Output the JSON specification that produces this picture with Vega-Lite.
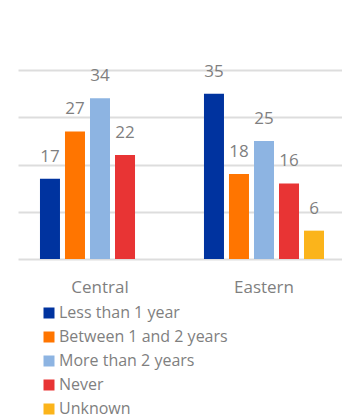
{
  "$schema": "https://vega.github.io/schema/vega-lite/v6.json",
  "autosize": {"type": "none"},
  "width": 324,
  "height": 189,
  "padding": {"left": 18, "top": 70, "right": 0, "bottom": 158},
  "background": "white",
  "config": {
    "view": {"stroke": null},
    "font": "Open Sans"
  },
  "data": {
    "values": [
      {"region": "Central", "duration": "Less than 1 year", "count": 17},
      {"region": "Central", "duration": "Between 1 and 2 years", "count": 27},
      {"region": "Central", "duration": "More than 2 years", "count": 34},
      {"region": "Central", "duration": "Never", "count": 22},
      {"region": "Eastern", "duration": "Less than 1 year", "count": 35},
      {"region": "Eastern", "duration": "Between 1 and 2 years", "count": 18},
      {"region": "Eastern", "duration": "More than 2 years", "count": 25},
      {"region": "Eastern", "duration": "Never", "count": 16},
      {"region": "Eastern", "duration": "Unknown", "count": 6}
    ]
  },
  "encoding": {
    "x": {
      "field": "region",
      "type": "nominal",
      "scale": {"range": [0, 328], "paddingInner": 0.268, "paddingOuter": 0.134},
      "axis": {
        "title": null,
        "labelAngle": 0,
        "ticks": false,
        "domain": false,
        "labelFontSize": 17,
        "labelColor": "#7f7f7f",
        "labelPadding": 20
      }
    },
    "xOffset": {
      "field": "duration",
      "type": "nominal",
      "sort": ["Less than 1 year", "Between 1 and 2 years", "More than 2 years", "Never", "Unknown"],
      "scale": {"paddingInner": 0.2, "paddingOuter": 0}
    },
    "y": {
      "field": "count",
      "type": "quantitative",
      "scale": {"domain": [0, 40], "nice": false},
      "axis": {
        "title": null,
        "labels": false,
        "ticks": false,
        "domain": false,
        "values": [0, 10, 20, 30, 40],
        "gridColor": "#dddddd",
        "gridWidth": 1.8
      }
    }
  },
  "layer": [
    {
      "mark": {"type": "bar"},
      "encoding": {
        "color": {
          "field": "duration",
          "type": "nominal",
          "sort": ["Less than 1 year", "Between 1 and 2 years", "More than 2 years", "Never", "Unknown"],
          "scale": {
            "domain": ["Less than 1 year", "Between 1 and 2 years", "More than 2 years", "Never", "Unknown"],
            "range": ["#00339f", "#ff7500", "#8db4e2", "#e83434", "#fbb41b"]
          },
          "legend": {
            "title": null,
            "orient": "none",
            "legendX": 23,
            "legendY": 235,
            "symbolType": "square",
            "symbolSize": 121,
            "symbolStrokeWidth": 0,
            "labelFontSize": 16,
            "labelColor": "#7f7f7f",
            "labelOffset": 2,
            "labelLimit": 300,
            "rowPadding": 8,
            "padding": 0
          }
        }
      }
    },
    {
      "mark": {
        "type": "text",
        "baseline": "alphabetic",
        "dy": -17,
        "fontSize": 17,
        "color": "#7f7f7f"
      },
      "encoding": {
        "text": {"field": "count", "type": "quantitative"}
      }
    }
  ]
}
